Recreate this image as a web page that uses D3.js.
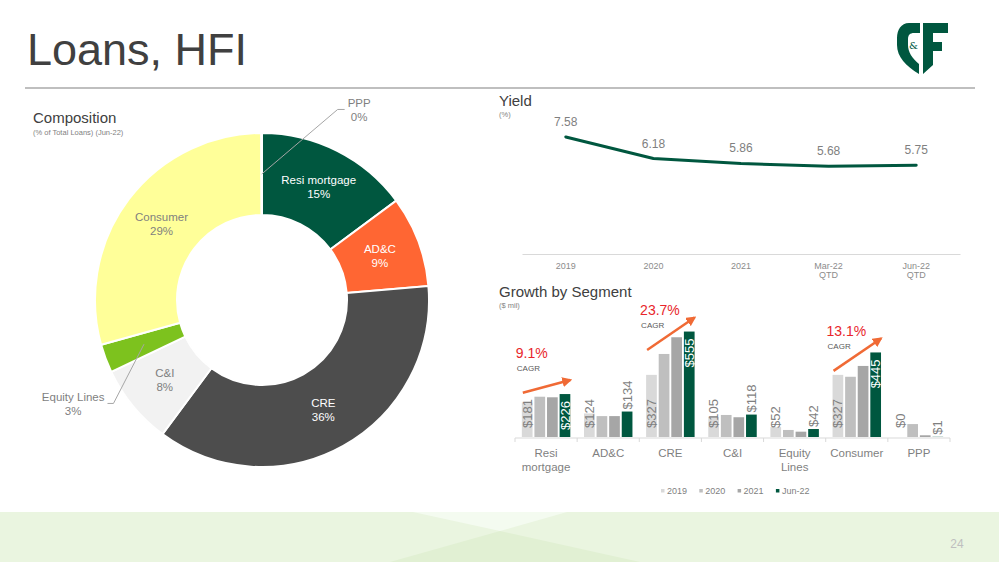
<!DOCTYPE html>
<html>
<head>
<meta charset="utf-8">
<style>
  body { margin: 0; background: #fff; }
  svg { display: block; font-family: "Liberation Sans", Arial, sans-serif; }
</style>
</head>
<body>
<svg id="slide" width="999" height="562"></svg>
<script src="https://cdnjs.cloudflare.com/ajax/libs/d3/7.8.5/d3.min.js"></script>
<script>
// ---- data ----
const segments = ["Resi mortgage", "AD&C", "CRE", "C&I", "Equity Lines", "Consumer", "PPP"];
const series = ["2019", "2020", "2021", "Jun-22"];
const v2019 = [181, 124, 327, 105, 52, 327, 0];
const v2020 = [212, 110, 437, 116, 37, 317, 68];
const v2021 = [209, 110, 525, 104, 28, 374, 9];
const vJun22 = [226, 134, 555, 118, 42, 445, 1];
const seriesValues = [v2019, v2020, v2021, vJun22];

const yieldPeriods = ["2019", "2020", "2021", "Mar-22 QTD", "Jun-22 QTD"];
const yieldValues = [7.58, 6.18, 5.86, 5.68, 5.75];

const cagrSegments = ["Resi mortgage", "CRE", "Consumer"];
const cagrLabels = ["9.1%", "23.7%", "13.1%"];

const sliceColors = ["#00573f", "#ff6633", "#4d4d4d", "#f2f2f2", "#7dc21e", "#ffff99", "#a9d08e"];
const sliceText = ["#ffffff", "#ffffff", "#ffffff", "#7f7f7f", "#7f7f7f", "#7f7f7f", "#7f7f7f"];
const seriesColors = ["#d9d9d9", "#bfbfbf", "#a6a6a6", "#00573f"];

const green = "#00573f";
const grey = "#7f7f7f";
const dark = "#404040";

const svg = d3.select("#slide");

// ---- slide background / footer ----
svg.append("rect").attr("x", 0).attr("y", 512).attr("width", 999).attr("height", 50).attr("fill", "#eaf5e0");
svg.append("path").attr("d", "M413,512 L567,512 L500,531 Z").attr("fill", "#f4fbf0");
svg.append("path").attr("d", "M390,562 L500,531 L640,562 Z").attr("fill", "#e1f0d3");
svg.append("text").attr("x", 957).attr("y", 548).attr("text-anchor", "middle")
  .attr("font-size", 12).attr("fill", "#bfbfbf").text("24");

// title + rule
svg.append("text").attr("x", 27).attr("y", 65).attr("font-size", 45).attr("fill", dark).text("Loans, HFI");
svg.append("line").attr("x1", 25).attr("x2", 975).attr("y1", 88).attr("y2", 88)
  .attr("stroke", "#bfbfbf").attr("stroke-width", 2);

// logo (rough)
const logo = svg.append("g").attr("fill", green);
logo.append("path").attr("d",
  "M920,23 L909,23 C901,23 897,30 897,38 L897,45 C897,57 906,66 919,74 L919,64 C912,58 908,52 908,45 L908,39 C908,35 910,33 914,33 L920,33 Z");
logo.append("path").attr("d",
  "M923,23 L948,23 L948,33 L933,33 L933,42 L942,42 L942,51 L933,51 L933,65 L923,74 Z");
logo.append("text").attr("x", 913.5).attr("y", 49).attr("text-anchor", "middle")
  .attr("font-size", 10).attr("font-family", "DejaVu Serif").text("&");

// ---- Composition donut ----
svg.append("text").attr("x", 33).attr("y", 123).attr("font-size", 15).attr("fill", dark).text("Composition");
svg.append("text").attr("x", 33).attr("y", 135).attr("font-size", 7.5).attr("fill", grey).text("(% of Total Loans) (Jun-22)");

const total = d3.sum(vJun22);
const pieData = d3.pie().sort(null).value(d => d.value)(
  segments.map((s, i) => ({ name: s, value: vJun22[i], color: sliceColors[i], text: sliceText[i] })));
const ri = 85, ro = 167;
const arc = d3.arc().innerRadius(ri).outerRadius(ro);
const midArc = d3.arc().innerRadius((ri + ro) / 2).outerRadius((ri + ro) / 2);
const pct = d => d3.format(".0%")(d.data.value / total);

const donut = svg.append("g").attr("transform", "translate(262,300)");
donut.selectAll("path.slice").data(pieData).join("path")
  .attr("class", "slice")
  .attr("d", arc)
  .attr("fill", d => d.data.color)
  .attr("stroke", "#fff").attr("stroke-width", 2);

// inside labels
const inside = pieData.filter(d => d.data.value / total >= 0.05);
const inLab = donut.selectAll("text.in").data(inside).join("text")
  .attr("class", "in")
  .attr("text-anchor", "middle")
  .attr("font-size", 11.5)
  .attr("fill", d => d.data.text)
  .attr("transform", d => `translate(${midArc.centroid(d)})`);
inLab.append("tspan").attr("x", 0).attr("y", -3).text(d => d.data.name);
inLab.append("tspan").attr("x", 0).attr("y", 11).text(pct);

// outside labels with leader lines (small slices)
const outside = pieData.filter(d => d.data.value / total < 0.05);
outside.forEach(d => {
  const mid = (d.startAngle + d.endAngle) / 2;
  // slices hugging the top (start or end of the ring) go to the right
  const right = Math.sin(mid) >= -0.05;
  const c = midArc.centroid(d);
  const elbow = d3.pointRadial(mid + (right ? 0.38 : -0.25), right ? ro + 38 : ro + 14);
  const tail = [elbow[0] + (right ? 7 : -6), elbow[1]];
  donut.append("polyline")
    .attr("points", [c, elbow, tail].map(p => p.join(",")).join(" "))
    .attr("fill", "none").attr("stroke", "#a6a6a6").attr("stroke-width", 1);
  const t = donut.append("text").attr("text-anchor", "middle").attr("font-size", 11.5).attr("fill", grey);
  const l1 = t.append("tspan").attr("y", tail[1] - 2).text(d.data.name);
  const w = l1.node().getComputedTextLength();
  const cx = tail[0] + (right ? 1 : -1) * (w / 2 + 3);
  l1.attr("x", cx);
  t.append("tspan").attr("x", cx).attr("y", tail[1] + 12).text(pct(d));
});

// ---- Yield line ----
svg.append("text").attr("x", 499).attr("y", 106).attr("font-size", 15).attr("fill", dark).text("Yield");
svg.append("text").attr("x", 499).attr("y", 117).attr("font-size", 7.5).attr("fill", grey).text("(%)");

const yx = d3.scaleBand().domain(yieldPeriods).range([522, 960]);
const yy = d3.scaleLinear().domain([0, 9]).range([254, 115]);
const ycx = p => yx(p) + yx.bandwidth() / 2;

const yAxis = svg.append("g").attr("transform", "translate(0,254)")
  .call(d3.axisBottom(yx).tickSize(0).tickPadding(9));
yAxis.select(".domain").attr("stroke", "#d9d9d9");
yAxis.selectAll(".tick text").attr("font-size", 9).attr("fill", "#8c8c8c")
  .attr("font-family", "Liberation Sans, Arial, sans-serif")
  .each(function (d) {
    const parts = d.split(" ");
    const el = d3.select(this).text(null);
    parts.forEach((p, i) => el.append("tspan").attr("x", 0).attr("dy", i ? "0.95em" : "0.71em").text(p));
  });

svg.append("path")
  .datum(yieldPeriods.map((p, i) => [ycx(p), yy(yieldValues[i])]))
  .attr("d", d3.line())
  .attr("fill", "none").attr("stroke", green).attr("stroke-width", 3)
  .attr("stroke-linecap", "round").attr("stroke-linejoin", "round");

svg.selectAll("text.yl").data(yieldPeriods).join("text")
  .attr("class", "yl")
  .attr("x", d => ycx(d))
  .attr("y", (d, i) => yy(yieldValues[i]) - 11)
  .attr("text-anchor", "middle").attr("font-size", 12).attr("fill", grey)
  .text((d, i) => d3.format(".2f")(yieldValues[i]));

// ---- Growth by Segment bars ----
svg.append("text").attr("x", 499).attr("y", 297).attr("font-size", 15).attr("fill", dark).text("Growth by Segment");
svg.append("text").attr("x", 499).attr("y", 308).attr("font-size", 7.5).attr("fill", grey).text("($ mil)");

const x0 = d3.scaleBand().domain(segments).range([515, 950]).paddingInner(0.22).paddingOuter(0.11);
const x1 = d3.scaleBand().domain(series).range([0, x0.bandwidth()]).paddingInner(0.15);
const by = d3.scaleLinear().domain([0, 600]).range([437, 323]);

const groups = svg.selectAll("g.grp").data(segments).join("g")
  .attr("class", "grp")
  .attr("transform", d => `translate(${x0(d)},0)`);

groups.selectAll("rect").data((d, i) => series.map((s, k) => ({ s, k, v: seriesValues[k][i] }))).join("rect")
  .attr("x", d => x1(d.s))
  .attr("width", x1.bandwidth())
  .attr("y", d => by(d.v))
  .attr("height", d => by(0) - by(d.v))
  .attr("fill", d => seriesColors[d.k]);

const lblFmt = v => "$" + v;
const lblSize = 13;
// 2019 labels near base
groups.append("text")
  .attr("transform", (d, i) => `translate(${x1("2019") + x1.bandwidth() / 2},${by(0) - 9}) rotate(-90)`)
  .attr("dy", "0.35em").attr("font-size", lblSize).attr("fill", grey)
  .text((d, i) => lblFmt(v2019[i]));
// Jun-22 labels: inside end if it fits, else outside end
groups.append("text")
  .attr("dy", "0.35em").attr("font-size", lblSize)
  .text((d, i) => lblFmt(vJun22[i]))
  .each(function (d, i) {
    const el = d3.select(this);
    const w = this.getComputedTextLength();
    const top = by(vJun22[i]);
    const h = by(0) - top;
    const cx = x1("Jun-22") + x1.bandwidth() / 2;
    if (h > w + 10) {
      el.attr("transform", `translate(${cx},${top + 7}) rotate(-90)`).attr("text-anchor", "end").attr("fill", "#fff");
    } else {
      el.attr("transform", `translate(${cx},${top - 2}) rotate(-90)`).attr("text-anchor", "start").attr("fill", grey);
    }
  });

// category axis
const bAxis = svg.append("g").attr("transform", "translate(0,438)");
bAxis.append("line").attr("x1", 515).attr("x2", 950).attr("stroke", "#d9d9d9");
bAxis.selectAll("line.tk").data(d3.range(segments.length + 1)).join("line")
  .attr("class", "tk")
  .attr("x1", i => 515 + i * x0.step()).attr("x2", i => 515 + i * x0.step())
  .attr("y1", 0).attr("y2", 4).attr("stroke", "#d9d9d9");
const catText = bAxis.selectAll("text").data(segments).join("text")
  .attr("text-anchor", "middle").attr("font-size", 11.5).attr("fill", grey);
catText.each(function (d) {
  const el = d3.select(this);
  d.split(" ").forEach((p, i) => el.append("tspan")
    .attr("x", x0(d) + x0.bandwidth() / 2).attr("y", 19 + i * 14).text(p));
});

// CAGR callouts
svg.append("defs").append("marker")
  .attr("id", "arrow").attr("viewBox", "0 0 10 10").attr("refX", 8).attr("refY", 5)
  .attr("markerWidth", 4).attr("markerHeight", 4).attr("orient", "auto")
  .append("path").attr("d", "M0,0 L10,5 L0,10 Z").attr("fill", "#f06a35");

cagrSegments.forEach((seg, j) => {
  const i = segments.indexOf(seg);
  const gx = x0(seg);
  const sx = gx + x1("2019") + 1;
  const sy = Math.min(by(v2019[i]), by(v2020[i])) - 4;
  const ex = gx + x1("Jun-22") + x1.bandwidth();
  const ey = by(vJun22[i]) - 14;
  svg.append("line").attr("x1", sx).attr("y1", sy).attr("x2", ex).attr("y2", ey)
    .attr("stroke", "#f06a35").attr("stroke-width", 2.5).attr("marker-end", "url(#arrow)");
  svg.append("text").attr("x", sx - 7).attr("y", sy - 35).attr("font-size", 14).attr("fill", "#e8262b").text(cagrLabels[j]);
  svg.append("text").attr("x", sx - 6).attr("y", sy - 22).attr("font-size", 8).attr("fill", "#595959").text("CAGR");
});

// legend
const leg = svg.append("g").attr("transform", "translate(661,494)");
const li = leg.selectAll("g").data(series).join("g")
  .attr("transform", (d, i) => `translate(${i * 38.3},0)`);
li.append("rect").attr("x", 0).attr("y", -5).attr("width", 3.5).attr("height", 3.5)
  .attr("fill", (d, i) => seriesColors[i]);
li.append("text").attr("x", 6).attr("font-size", 9).attr("fill", grey).text(d => d);
</script>
</body>
</html>
